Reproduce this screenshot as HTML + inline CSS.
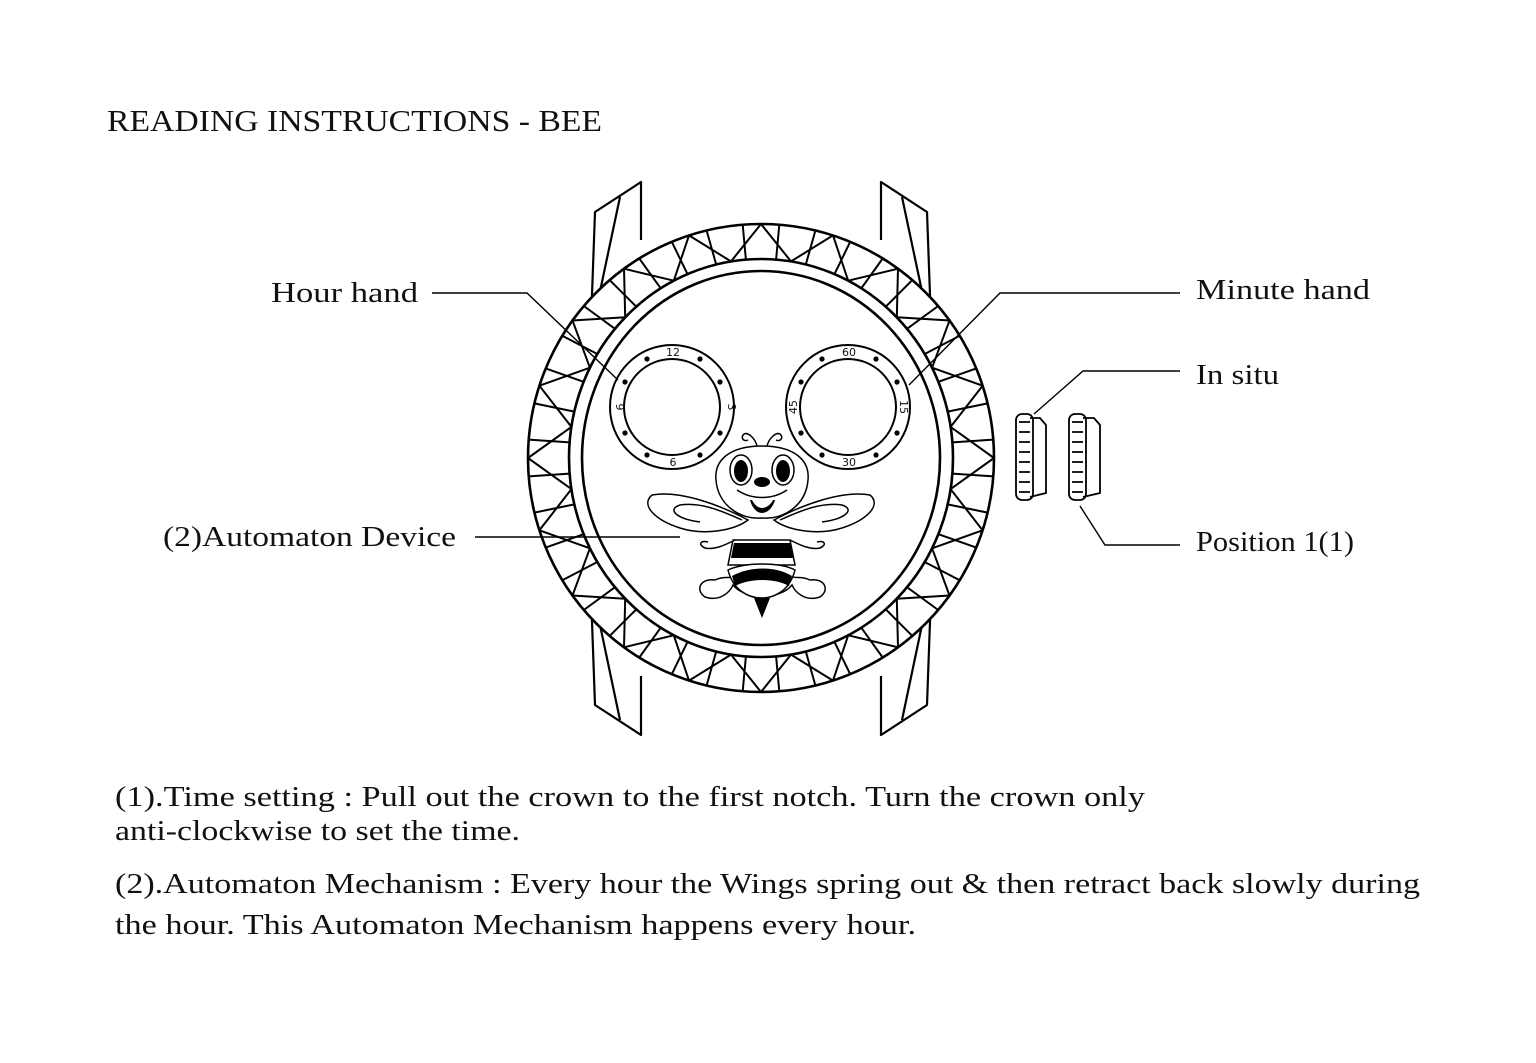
<!DOCTYPE html>
<html><head><meta charset="utf-8"><style>
html,body{margin:0;padding:0;background:#fff;}
svg{display:block;}
text{font-family:"Liberation Serif",serif;fill:#111;}
.s{font-family:"DejaVu Sans","Liberation Sans",sans-serif;}
</style></head><body>
<svg width="1536" height="1063" viewBox="0 0 1536 1063" xmlns="http://www.w3.org/2000/svg">
<defs>
<path id="q" fill="none" stroke="#000" stroke-width="2" stroke-linejoin="round" d="M761,224 L791,261.4 L833,235.4 L848.2,280.7 L898,268.7 L896.8,317.3 L949.5,320.5 L932.1,367.7 L982.6,385.7 L950.6,426.9 L994,458 M779.3,224.7 L776.1,259.6 M815.4,230.5 L805.8,264.5 M850.2,241.8 L834.5,274.1 M882.7,258.5 L861.3,288.3 M912.3,280.1 L885.7,306.7 M938.2,306 L907,328.8 M959.7,335.7 L924.7,354 M976.3,368.4 L938.4,381.8 M987.6,403.4 L947.7,411.6 M993.3,439.6 L952.4,442.4"/>
</defs>
<text x="107" y="131" font-size="31" textLength="495" lengthAdjust="spacingAndGlyphs">READING INSTRUCTIONS - BEE</text>
<g fill="none" stroke="#000" stroke-width="2.2" stroke-linejoin="round">
<path d="M590,350 L595,212 L641,182 L641,240"/>
<path d="M620,197 L588,348"/>
<path d="M932,350 L927,212 L881,182 L881,240"/>
<path d="M902,197 L934,348"/>
<path d="M590,566 L595,705 L641,735 L641,676"/>
<path d="M620,720 L588,568"/>
<path d="M932,566 L927,705 L881,735 L881,676"/>
<path d="M902,720 L934,568"/>
<ellipse cx="761" cy="458" rx="233" ry="234" fill="#fff" stroke-width="2.6"/>
<ellipse cx="761" cy="458" rx="192" ry="199" stroke-width="2.6"/>
<ellipse cx="761" cy="458" rx="179" ry="187" stroke-width="2.6"/>
</g>
<use href="#q"/>
<use href="#q" transform="translate(1522,0) scale(-1,1)"/>
<use href="#q" transform="translate(0,916) scale(1,-1)"/>
<use href="#q" transform="translate(1522,916) scale(-1,-1)"/>
<g fill="none" stroke="#000" stroke-width="2">
<circle cx="672" cy="407" r="62"/><circle cx="672" cy="407" r="48"/>
<circle cx="848" cy="407" r="62"/><circle cx="848" cy="407" r="48"/>
</g>
<g fill="#000">
<circle cx="647" cy="359" r="2.6"/><circle cx="700" cy="359" r="2.6"/><circle cx="625" cy="382" r="2.6"/><circle cx="720" cy="382" r="2.6"/>
<circle cx="625" cy="433" r="2.6"/><circle cx="720" cy="433" r="2.6"/><circle cx="647" cy="455" r="2.6"/><circle cx="700" cy="455" r="2.6"/>
<circle cx="822" cy="359" r="2.6"/><circle cx="876" cy="359" r="2.6"/><circle cx="801" cy="382" r="2.6"/><circle cx="897" cy="382" r="2.6"/>
<circle cx="801" cy="433" r="2.6"/><circle cx="897" cy="433" r="2.6"/><circle cx="822" cy="455" r="2.6"/><circle cx="876" cy="455" r="2.6"/>
</g>
<g font-size="11" text-anchor="middle">
<text class="s" x="673" y="356">12</text><text class="s" x="673" y="466">6</text>
<text class="s" x="849" y="356">60</text><text class="s" x="849" y="466">30</text>
<text class="s" transform="translate(616,407) rotate(90)">9</text>
<text class="s" transform="translate(728,407) rotate(90)">3</text>
<text class="s" transform="translate(797,407) rotate(-90)">45</text>
<text class="s" transform="translate(900,407) rotate(90)">15</text>
</g>
<!-- bee -->
<g fill="#fff" stroke="#000" stroke-width="1.5">
<path d="M748,520 C720,505 680,490 652,495 C640,505 655,520 680,528 C705,536 735,530 748,520Z"/>
<path d="M742,520 C720,510 700,502 680,505 C665,510 680,520 700,522"/>
<path d="M774,520 C802,505 842,490 870,495 C882,505 867,520 842,528 C817,536 787,530 774,520Z"/>
<path d="M780,520 C802,510 822,502 842,505 C857,510 842,520 822,522"/>
<path d="M705,597 C695,590 700,578 715,580 C725,575 730,580 735,575 L740,565 L785,565 L790,575 C795,580 800,575 810,580 C825,578 830,590 820,597 C805,602 795,592 792,585 C780,600 745,600 733,585 C730,592 720,602 705,597Z"/>
<path d="M733,540 L790,540 L795,565 L728,565Z"/>
<path d="M735,540 C725,545 715,550 705,548 C698,545 700,540 708,542 M790,540 C800,545 810,550 820,548 C827,545 825,540 817,542"/>
<path d="M728,570 C745,562 780,562 795,570 C790,590 775,598 762,598 C748,598 733,590 728,570Z"/>
<path d="M762,518 C740,520 718,505 716,480 C714,460 730,446 762,446 C794,446 810,460 808,480 C806,505 784,520 762,518Z"/>
<ellipse cx="741" cy="470" rx="11" ry="15"/><ellipse cx="783" cy="470" rx="11" ry="15"/>
<path d="M757,446 C755,438 748,432 744,434 C740,438 744,442 748,440 M767,446 C769,438 776,432 780,434 C784,438 780,442 776,440" fill="none"/>
<path d="M737,490 C752,500 772,500 787,490" fill="none"/>
</g>
<g fill="#000">
<ellipse cx="741" cy="471" rx="7" ry="11"/><ellipse cx="783" cy="471" rx="7" ry="11"/>
<ellipse cx="762" cy="482" rx="8" ry="5"/>
<path d="M750,500 L775,500 C773,508 767,513 762,513 C757,513 752,508 750,500Z"/>
<path d="M734,543 L790,543 L793,558 L731,558Z"/>
<path d="M732,576 C750,566 776,566 792,576 L789,586 C775,578 750,578 735,586Z"/>
<path d="M754,598 L770,598 L762,618Z"/>
<path d="M752,500 L773,500 C770,506 765,508 762,508 C759,508 755,506 752,500Z" fill="#fff"/>
</g>
<!-- crowns -->
<g fill="none" stroke="#000" stroke-width="1.8">
<path d="M1030,418 L1040,418 L1046,425 L1046,493 L1030,497"/>
<rect x="1016" y="414" width="17" height="86" rx="6"/>
<path d="M1019,422h11M1019,432h11M1019,442h11M1019,452h11M1019,462h11M1019,472h11M1019,482h11M1019,492h11"/>
<path d="M1083,418 L1094,418 L1100,425 L1100,493 L1083,497"/>
<rect x="1069" y="414" width="17" height="86" rx="6"/>
<path d="M1072,422h11M1072,432h11M1072,442h11M1072,452h11M1072,462h11M1072,472h11M1072,482h11M1072,492h11"/>
</g>
<g fill="none" stroke="#000" stroke-width="1.4">
<path d="M432,293 L527,293 L618,380"/>
<path d="M1180,293 L1000,293 L909,385"/>
<path d="M1180,371 L1083,371 L1034,414"/>
<path d="M1180,545 L1105,545 L1080,506"/>
<path d="M475,537 L680,537"/>
</g>
<g font-size="28" lengthAdjust="spacingAndGlyphs">
<text x="271" y="302" textLength="147" lengthAdjust="spacingAndGlyphs">Hour hand</text>
<text x="1196" y="299" textLength="174" lengthAdjust="spacingAndGlyphs">Minute hand</text>
<text x="1196" y="384" textLength="83" lengthAdjust="spacingAndGlyphs">In situ</text>
<text x="1196" y="551" textLength="158" lengthAdjust="spacingAndGlyphs">Position 1(1)</text>
<text x="163" y="546" textLength="293" lengthAdjust="spacingAndGlyphs">(2)Automaton Device</text>
<text x="115" y="806" textLength="1030" lengthAdjust="spacingAndGlyphs">(1).Time setting : Pull out the crown to the first notch. Turn the crown only</text>
<text x="115" y="840" textLength="405" lengthAdjust="spacingAndGlyphs">anti-clockwise to set the time.</text>
<text x="115" y="893" textLength="1305" lengthAdjust="spacingAndGlyphs">(2).Automaton Mechanism : Every hour the Wings spring out &amp; then retract back slowly during</text>
<text x="115" y="934" textLength="801" lengthAdjust="spacingAndGlyphs">the hour. This Automaton Mechanism happens every hour.</text>
</g>
</svg>
</body></html>
